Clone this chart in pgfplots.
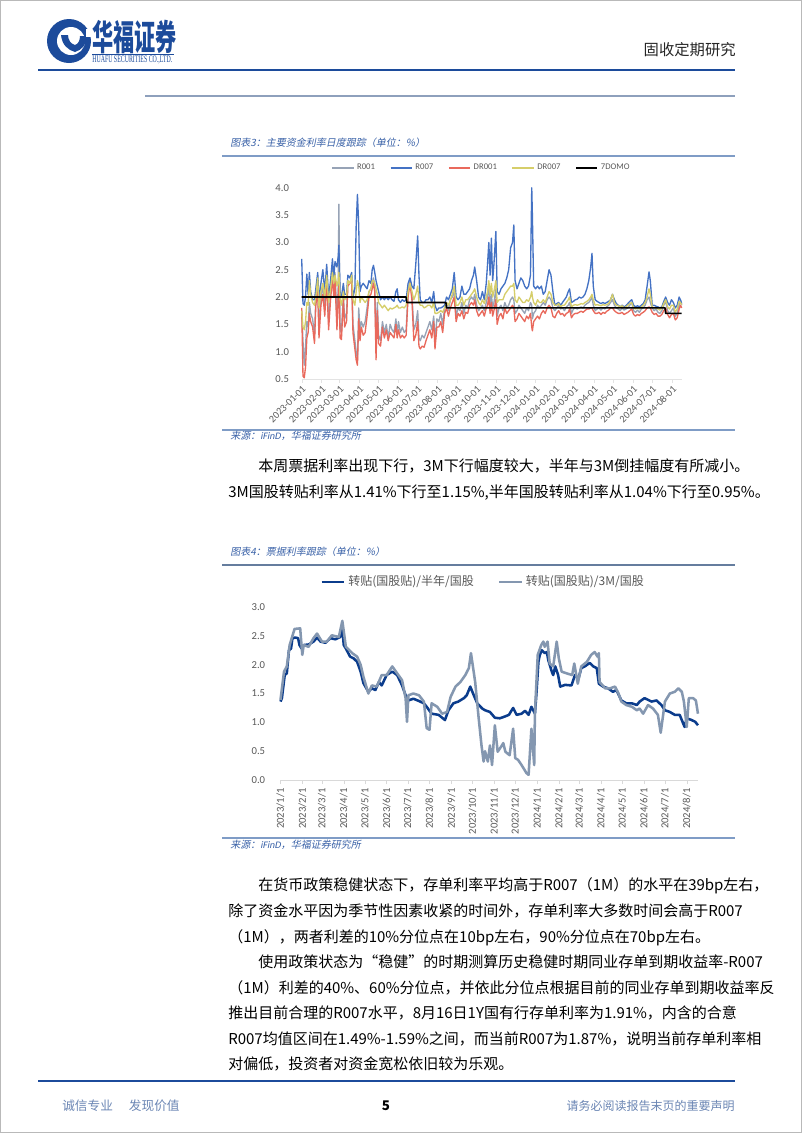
\documentclass[border=0pt]{standalone}
\usepackage{pgfplots}
\pgfplotsset{compat=1.18}
\usepackage{pgfplotstable}
\usepackage{fontspec}
\setmainfont{Noto Sans CJK SC}
\newfontfamily\cjkit[FakeSlant=0.2]{Noto Sans CJK SC}
\newfontfamily\calib{Carlito}
\newfontfamily\calibit[FakeSlant=0.2]{Carlito}
\newfontfamily\hdrserif{Liberation Serif}
\XeTeXlinebreaklocale "zh"
\XeTeXlinebreakskip=0pt plus 3pt

\definecolor{hdrblue}{HTML}{1C4B9B}
\definecolor{linegray}{HTML}{8EA0BC}
\definecolor{ttlblue}{HTML}{3A62A8}
\definecolor{ruleblue}{HTML}{7F9CC6}
\definecolor{footblue}{HTML}{6B86B4}
\definecolor{lbl}{HTML}{595959}
\definecolor{cR001}{HTML}{97A3B6}
\definecolor{cR007}{HTML}{4472C4}
\definecolor{cDR001}{HTML}{E9695C}
\definecolor{cDR007}{HTML}{D6CE6A}
\definecolor{cHalf}{HTML}{0B3C8C}
\definecolor{cThree}{HTML}{8497B0}

\newcommand\bodyfont{\fontsize{11.25}{13}\selectfont}

\pgfplotstableread{
d r001 r007 dr001 dr007
0 1.75 2.70 1.80 1.75
2 1.20 1.88 0.55 1.45
4 0.75 1.85 0.52 1.40
6 1.10 2.00 0.72 1.55
8 1.55 2.42 1.25 1.90
10 1.45 2.05 1.35 1.85
12 1.90 2.45 1.70 2.30
14 1.70 2.10 1.55 2.05
17 1.60 1.95 1.45 1.90
20 1.30 1.95 1.15 1.85
22 1.95 2.15 1.85 2.00
25 2.25 2.45 2.10 2.35
27 1.40 1.95 1.25 1.80
30 2.00 2.25 1.85 2.10
33 2.20 2.50 2.05 2.25
36 1.80 2.10 1.65 2.00
39 2.40 2.60 2.30 2.40
42 1.55 2.00 1.40 1.90
45 2.05 2.30 1.95 2.15
48 2.50 2.70 2.35 2.45
50 2.20 2.35 2.00 2.25
52 2.45 2.65 2.30 2.40
55 1.60 2.55 1.40 2.20
57 2.20 2.75 2.00 2.30
58 3.70 2.95 2.20 2.45
60 1.40 2.05 1.25 1.95
62 1.35 2.00 1.22 1.85
65 2.05 2.25 1.95 2.10
67 1.60 2.05 1.45 1.95
70 1.70 2.05 1.55 2.00
72 2.30 2.40 2.20 2.30
75 2.25 2.35 2.25 2.25
78 2.35 2.45 2.30 2.40
80 1.50 2.00 1.35 1.95
83 1.20 2.15 1.05 1.85
85 1.00 3.30 0.85 2.10
87 0.85 3.88 0.75 2.30
89 1.80 3.30 1.60 2.20
91 1.40 2.10 1.20 1.90
93 1.55 2.20 1.45 2.00
96 1.45 2.25 1.30 1.95
99 1.55 2.20 1.35 1.90
102 1.80 2.15 1.65 1.95
105 2.10 2.30 2.00 2.10
108 2.15 2.25 2.05 2.15
110 2.25 2.50 2.15 2.30
112 2.35 2.58 2.25 2.30
114 2.20 2.45 2.10 2.25
116 1.10 2.30 0.85 2.15
118 1.90 2.20 1.75 2.05
120 1.30 2.10 1.15 1.90
123 1.20 1.95 1.10 1.85
126 1.55 2.00 1.45 1.80
129 1.35 1.95 1.25 1.85
132 1.50 2.00 1.40 1.80
135 1.25 1.95 1.20 1.75
138 1.50 2.00 1.35 1.80
141 1.40 1.95 1.30 1.78
144 1.35 1.92 1.25 1.80
147 1.60 2.10 1.50 1.82
149 1.30 2.15 1.25 1.85
151 1.55 1.95 1.40 1.80
154 1.35 1.90 1.25 1.80
157 1.45 1.95 1.30 1.82
160 1.35 1.92 1.25 1.80
163 1.40 1.95 1.30 1.85
166 2.10 2.25 2.00 2.10
169 2.30 2.35 2.25 2.25
172 2.05 2.20 1.95 2.10
175 1.40 2.15 1.20 1.95
178 1.50 2.60 1.30 2.05
181 1.75 3.12 1.55 2.20
183 1.25 2.40 1.10 1.90
185 1.20 1.95 1.05 1.85
188 1.30 1.90 1.10 1.85
191 1.25 1.90 1.08 1.80
194 1.35 1.95 1.20 1.82
197 1.45 1.95 1.30 1.85
200 1.55 2.00 1.40 1.85
203 1.40 1.90 1.25 1.80
206 1.65 2.10 1.55 1.90
208 1.20 1.85 1.05 1.70
211 1.60 1.75 1.45 1.70
214 1.55 1.80 1.45 1.72
217 1.70 1.80 1.55 1.75
220 1.50 1.82 1.35 1.72
223 1.80 1.85 1.70 1.80
226 1.90 2.00 1.80 1.90
229 1.75 1.95 1.65 1.85
232 1.95 2.05 1.80 1.95
235 2.00 2.15 1.90 2.05
238 2.10 2.45 2.00 2.20
241 1.65 2.00 1.55 1.85
244 1.80 1.95 1.70 1.85
247 1.75 2.00 1.65 1.90
250 1.90 2.20 1.75 2.00
253 1.70 2.05 1.60 1.85
256 1.85 2.05 1.72 1.95
259 1.80 2.10 1.70 1.95
262 1.95 2.15 1.85 2.00
265 2.00 2.30 1.90 2.05
268 1.95 2.40 1.85 2.10
270 2.05 2.55 1.95 2.15
273 1.85 2.30 1.75 2.00
276 1.75 2.00 1.65 1.90
279 1.80 1.95 1.70 1.85
282 1.85 2.10 1.75 1.95
285 1.75 1.95 1.65 1.88
288 1.90 2.25 1.80 2.00
290 2.00 2.60 1.85 2.10
292 2.20 3.00 2.00 2.30
294 1.85 2.40 1.70 2.05
296 2.05 3.08 1.90 2.25
298 1.80 2.30 1.65 2.00
300 1.90 2.60 1.75 2.10
303 2.15 3.20 1.95 2.30
305 1.65 2.10 1.50 1.90
308 1.80 2.05 1.65 1.95
311 1.85 2.15 1.70 1.95
314 1.75 2.20 1.60 1.95
317 1.90 2.25 1.80 2.05
320 1.80 2.35 1.70 2.10
323 1.85 2.50 1.75 2.15
326 1.95 2.90 1.80 2.20
329 2.00 3.00 1.85 2.20
331 1.95 3.32 1.80 2.25
333 1.70 2.30 1.55 1.95
336 1.75 2.15 1.60 1.90
339 1.85 2.25 1.70 2.00
342 1.80 2.35 1.65 1.95
345 1.75 2.30 1.60 1.90
348 1.70 2.20 1.55 1.90
351 1.80 2.15 1.65 1.95
354 1.75 2.20 1.60 1.92
357 1.90 2.40 1.70 2.00
359 1.85 4.00 1.45 2.10
360 1.60 3.50 1.38 2.00
362 1.70 2.20 1.55 1.90
365 1.75 2.15 1.60 1.85
368 1.85 2.20 1.65 1.95
371 1.80 2.15 1.60 1.90
374 1.85 2.20 1.70 1.90
377 1.90 2.05 1.75 1.95
380 1.85 2.10 1.70 1.90
383 1.95 2.30 1.80 2.00
386 2.00 2.50 1.85 2.10
389 1.95 2.40 1.80 2.05
392 1.80 2.10 1.65 1.90
395 1.75 1.85 1.62 1.85
398 1.80 1.88 1.70 1.85
401 1.85 1.90 1.75 1.88
404 1.78 1.85 1.68 1.82
407 1.80 1.90 1.70 1.85
410 1.75 1.95 1.65 1.85
413 1.82 2.00 1.70 1.90
416 1.85 2.10 1.72 1.95
418 1.90 2.15 1.78 2.00
421 1.70 1.90 1.62 1.82
424 1.78 1.92 1.68 1.85
427 1.80 1.95 1.70 1.86
430 1.78 1.96 1.70 1.85
433 1.80 2.00 1.72 1.86
436 1.82 1.98 1.74 1.88
439 1.80 2.00 1.72 1.87
442 1.85 2.05 1.75 1.90
445 1.88 2.15 1.78 1.92
448 1.90 2.30 1.78 1.95
451 1.95 2.55 1.80 2.00
453 2.00 2.80 1.80 2.05
455 1.85 2.20 1.75 1.95
458 1.75 1.95 1.70 1.85
461 1.78 1.92 1.70 1.86
464 1.80 1.90 1.72 1.85
467 1.76 1.88 1.68 1.84
470 1.80 1.90 1.72 1.86
473 1.78 1.88 1.70 1.85
476 1.82 1.90 1.74 1.86
479 1.85 1.92 1.76 1.88
482 1.90 1.95 1.80 1.95
485 1.95 2.05 1.80 2.05
488 1.85 1.95 1.75 1.90
491 1.80 1.88 1.72 1.85
494 1.78 1.85 1.70 1.84
497 1.75 1.82 1.70 1.82
500 1.80 1.85 1.72 1.84
503 1.76 1.82 1.68 1.80
506 1.78 1.84 1.70 1.82
509 1.80 1.88 1.72 1.85
512 1.85 1.92 1.75 1.88
515 1.90 1.95 1.78 1.90
518 1.75 1.85 1.68 1.80
521 1.72 1.82 1.65 1.78
524 1.76 1.84 1.68 1.80
527 1.72 1.82 1.66 1.78
530 1.78 1.85 1.70 1.82
533 1.80 1.88 1.72 1.85
536 1.85 1.95 1.75 1.90
539 1.95 2.20 1.80 2.00
542 2.00 2.46 1.82 2.15
544 1.90 2.30 1.80 2.05
547 1.80 1.85 1.72 1.82
550 1.75 1.85 1.68 1.80
553 1.78 1.83 1.70 1.80
556 1.72 1.82 1.65 1.78
559 1.70 1.80 1.65 1.76
562 1.75 1.82 1.68 1.80
565 1.85 1.92 1.75 1.88
568 1.92 2.00 1.80 1.95
571 1.75 1.90 1.68 1.82
574 1.70 1.85 1.62 1.78
577 1.75 1.95 1.68 1.85
580 1.80 1.90 1.70 1.85
583 1.65 1.80 1.58 1.72
586 1.70 1.85 1.62 1.78
589 1.85 2.00 1.78 1.92
591 1.95 1.95 1.85 1.90
593 1.85 1.88 1.80 1.86
}\tabA

\pgfplotstableread{
d v
0 1.36
2 1.42
6 1.82
9 1.85
12 2.25
15 2.28
17 2.46
21 2.47
25 2.46
27 2.34
30 2.28
33 2.34
40 2.35
47 2.40
52 2.47
57 2.40
64 2.38
71 2.46
78 2.44
85 2.48
88 2.63
90 2.34
93 2.28
99 2.14
104 2.11
109 2.05
114 1.88
118 1.68
125 1.53
130 1.59
135 1.56
140 1.70
144 1.64
151 1.82
159 1.88
166 1.82
173 1.64
178 1.47
182 1.38
189 1.41
197 1.37
204 1.33
208 1.27
215 1.15
225 1.13
234 1.04
239 1.21
246 1.33
253 1.36
261 1.42
265 1.47
270 1.62
275 1.47
280 1.33
287 1.24
291 1.21
298 1.18
305 1.08
312 1.07
319 1.10
325 1.13
331 1.25
336 1.13
343 1.15
348 1.20
353 1.13
357 1.27
362 1.15
364 1.47
367 2.05
369 2.17
372 2.25
376 2.20
379 2.22
381 2.08
386 1.88
388 1.82
391 1.97
395 1.82
398 1.62
405 1.65
414 1.64
419 1.82
424 1.76
428 1.94
433 1.97
440 2.03
445 1.97
450 1.94
453 1.67
459 1.62
466 1.59
473 1.53
478 1.56
485 1.38
492 1.33
500 1.33
507 1.30
511 1.36
518 1.42
528 1.36
535 1.38
542 1.30
547 1.21
554 1.18
561 1.13
568 1.13
575 0.92
578 1.07
585 1.04
590 1.01
594 0.95
}\tabH

\pgfplotstableread{
d v
0 1.39
5 1.88
9 1.97
13 2.34
16 2.46
20 2.62
28 2.63
31 2.17
33 2.34
40 2.31
47 2.46
52 2.54
59 2.40
66 2.40
73 2.51
83 2.48
88 2.76
93 2.31
102 2.20
109 2.14
114 2.00
118 1.79
125 1.50
130 1.64
137 1.62
144 1.82
151 1.82
159 1.97
166 1.85
173 1.73
178 1.42
180 1.01
182 1.47
189 1.50
197 1.47
204 1.36
208 0.90
212 0.87
215 1.33
223 1.27
230 1.15
237 1.18
242 1.44
249 1.62
256 1.70
263 1.82
268 1.94
271 2.20
277 1.70
282 1.07
286 0.60
289 0.32
291 0.50
295 0.32
298 0.60
301 0.26
305 0.95
309 0.49
314 0.58
317 0.64
320 0.49
326 0.43
331 0.89
334 0.38
338 0.35
343 0.26
350 0.12
353 0.09
357 0.89
361 0.26
362 1.15
366 2.17
371 2.34
374 2.40
376 2.31
380 2.40
383 2.02
388 1.97
393 2.40
396 2.11
400 1.88
407 1.85
415 1.82
418 2.02
423 1.67
428 1.97
436 2.05
442 2.17
447 2.22
451 2.14
453 2.20
454 1.70
462 1.59
469 1.59
476 1.62
481 1.50
485 1.36
492 1.30
500 1.27
507 1.21
511 1.24
516 1.15
523 1.30
530 1.24
537 1.13
541 0.82
547 1.36
554 1.50
561 1.53
566 1.59
571 1.53
574 1.36
578 0.92
581 1.42
587 1.42
591 1.38
594 1.15
}\tabM

\begin{document}
\begin{tikzpicture}[x=0.75pt,y=-0.75pt]
\path[use as bounding box] (0,0) rectangle (802,1133);
\fill[white] (0,0) rectangle (802,1133);
\draw[gray!55, line width=0.75pt] (0.5,0.5) rectangle (801.5,1132.5);

% ---------- header ----------
\fill[hdrblue] (69,41) circle (22);
\fill[white] (71,41) circle (14);
\fill[hdrblue] (61,35) .. controls (62,45) and (68,50) .. (75,52) .. controls (82,50) and (87,44) .. (87,36) -- (80,36) .. controls (80,41) and (78,44) .. (75,45) .. controls (71,44) and (68,40) .. (68,35) -- cycle;
\fill[white] (86,29) rectangle (93,37);
\node[anchor=west, inner sep=0pt, text=hdrblue] at (92,37) {\scalebox{0.72}[1.2]{\fontsize{22}{23}\selectfont\bfseries 华福证券}};
\draw[hdrblue, line width=0.4pt] (92,54) -- (174,54);
\node[anchor=west, inner sep=0pt, text=hdrblue] at (92,59.5) {\resizebox{60pt}{5pt}{\hdrserif HUAFU SECURITIES CO.,LTD.}};
\node[anchor=east, inner sep=0pt, text=black!85] at (736,50) {\fontsize{11.5}{12}\selectfont 固收定期研究};
\draw[hdrblue, line width=1.6pt] (38,70) -- (735,70);
\draw[linegray, line width=0.8pt] (145,96) -- (735,96);

% ---------- chart 1 header/footer ----------
\node[anchor=west, inner sep=0pt, text=ttlblue] at (230,143) {\fontsize{7.5}{8}\selectfont\cjkit 图表3：主要资金利率日度跟踪（单位：\%）};
\draw[ruleblue, line width=0.8pt] (222,156) -- (735,156);
\draw[ruleblue, line width=0.8pt] (222,430) -- (735,430);
\node[anchor=west, inner sep=0pt, text=ttlblue] at (230,436) {\fontsize{7.5}{8}\selectfont\cjkit 来源：{\calibit iFinD}，华福证券研究所};

\coordinate (P1) at (301.7,378.9);
\begin{axis}[at={(P1)}, anchor=south west, scale only axis,
  width=285pt, height=143.3pt,
  xmin=0, xmax=593, ymin=0.5, ymax=4.0, clip=false,
  axis x line*=bottom, axis y line*=left,
  axis line style={-},
  x axis line style={draw=gray!22},
  y axis line style={draw=none},
  tick align=outside, major tick length=3pt,
  xtick={0,31,59,90,120,151,181,212,243,273,304,334,365,396,425,456,486,517,547,578},
  xticklabels={2023-01-01,2023-02-01,2023-03-01,2023-04-01,2023-05-01,2023-06-01,2023-07-01,2023-08-01,2023-09-01,2023-10-01,2023-11-01,2023-12-01,2024-01-01,2024-02-01,2024-03-01,2024-04-01,2024-05-01,2024-06-01,2024-07-01,2024-08-01},
  xtick style={draw=gray!22},
  ytick={0.5,1.0,1.5,2.0,2.5,3.0,3.5,4.0},
  ytick style={draw=none},
  /pgf/number format/fixed, /pgf/number format/fixed zerofill,
  /pgf/number format/precision=1, /pgf/number format/assume math mode=true,
  yticklabel style={font=\calib\fontsize{8}{9}\selectfont, text=lbl, xshift=-3pt},
  xticklabel style={font=\calib\fontsize{7.6}{8}\selectfont, text=lbl, rotate=45, anchor=north east, inner sep=1pt},
  legend columns=5,
  legend style={at={(0.474,1.105)}, anchor=center, draw=none, fill=none,
    font=\calib\fontsize{6.5}{7}\selectfont, text=lbl,
    /tikz/every even column/.append style={column sep=9pt}},
  legend image code/.code={\draw[#1, line width=1.3pt] (0pt,0pt) -- (16pt,0pt);},
  every axis plot/.append style={line width=1.0pt, line join=round},
]
\addplot[color=cR001] table[x=d, y=r001] {\tabA};
\addlegendentry{R001}
\addplot[color=cR007] table[x=d, y=r007] {\tabA};
\addlegendentry{R007}
\addplot[color=cDR001] table[x=d, y=dr001] {\tabA};
\addlegendentry{DR001}
\addplot[color=cDR007] table[x=d, y=dr007] {\tabA};
\addlegendentry{DR007}
\addplot[color=black, line width=1.2pt] coordinates {(0,2.0) (163,2.0) (164,1.9) (225,1.9) (226,1.8) (567,1.8) (568,1.7) (593,1.7)};
\addlegendentry{7DOMO}
\end{axis}

% ---------- paragraph A ----------
\node[anchor=base west, inner sep=0pt] at (258,471.5) {\bodyfont\makebox[359.25pt][s]{本周票据利率出现下行，3M下行幅度较大，半年与3M倒挂幅度有所减小。}};
\node[anchor=base west, inner sep=0pt] at (228,497.5) {\bodyfont\makebox[381.75pt][s]{3M国股转贴利率从1.41\%下行至1.15\%,半年国股转贴利率从1.04\%下行至0.95\%。}};

% ---------- chart 2 header/footer ----------
\node[anchor=west, inner sep=0pt, text=ttlblue] at (230,552) {\fontsize{7.5}{8}\selectfont\cjkit 图表4：票据利率跟踪（单位：\%）};
\draw[ruleblue!80!black, line width=1pt] (222,565) -- (735,565);
\draw[ruleblue, line width=0.8pt] (222,838) -- (735,838);
\node[anchor=west, inner sep=0pt, text=ttlblue] at (230,845) {\fontsize{7.5}{8}\selectfont\cjkit 来源：{\calibit iFinD}，华福证券研究所};

\coordinate (P2) at (280.5,780);
\begin{axis}[at={(P2)}, anchor=south west, scale only axis,
  width=313.1pt, height=129.75pt,
  xmin=0, xmax=594, ymin=0, ymax=3.0, clip=false,
  axis x line*=bottom, axis y line*=left,
  axis line style={-},
  x axis line style={draw=gray!30},
  y axis line style={draw=none},
  tick align=outside, major tick length=3pt,
  xtick={0,31,59,90,120,151,181,212,243,273,304,334,365,396,425,456,486,517,547,578},
  xticklabels={2023/1/1,2023/2/1,2023/3/1,2023/4/1,2023/5/1,2023/6/1,2023/7/1,2023/8/1,2023/9/1,2023/10/1,2023/11/1,2023/12/1,2024/1/1,2024/2/1,2024/3/1,2024/4/1,2024/5/1,2024/6/1,2024/7/1,2024/8/1},
  xtick style={draw=gray!30},
  ytick={0,0.5,1.0,1.5,2.0,2.5,3.0},
  ytick style={draw=none},
  /pgf/number format/fixed, /pgf/number format/fixed zerofill,
  /pgf/number format/precision=1, /pgf/number format/assume math mode=true,
  yticklabel style={font=\calib\fontsize{8}{9}\selectfont, text=lbl, xshift=-5pt},
  xticklabel style={font=\calib\fontsize{8}{9}\selectfont, text=lbl, rotate=90, anchor=east, inner sep=1pt, xshift=-2pt},
  legend columns=2,
  legend style={at={(0.486,1.145)}, anchor=center, draw=none, fill=none,
    font=\fontsize{9}{10}\selectfont, text=lbl,
    /tikz/every even column/.append style={column sep=16pt}},
  legend image code/.code={\draw[#1, line width=2pt] (0pt,0pt) -- (17pt,0pt);},
  every axis plot/.append style={line width=1.9pt, line join=round},
]
\addplot[color=cHalf] table[x=d, y=v] {\tabH};
\addlegendentry{转贴(国股贴)/半年/国股}
\addplot[color=cThree] table[x=d, y=v] {\tabM};
\addlegendentry{转贴(国股贴)/3M/国股}
\end{axis}

% ---------- paragraph B ----------
\node[anchor=base west, inner sep=0pt] at (258,890.5) {\bodyfont\makebox[359.25pt][s]{在货币政策稳健状态下，存单利率平均高于R007（1M）的水平在39bp左右，}};
\node[anchor=base west, inner sep=0pt] at (228,916.5) {\bodyfont\makebox[381.75pt][s]{除了资金水平因为季节性因素收紧的时间外，存单利率大多数时间会高于R007}};
\node[anchor=base west, inner sep=0pt] at (228,942.5) {\bodyfont （1M），两者利差的10\%分位点在10bp左右，90\%分位点在70bp左右。};
\node[anchor=base west, inner sep=0pt] at (258,967.5) {\bodyfont\makebox[359.25pt][s]{使用政策状态为“稳健”的时期测算历史稳健时期同业存单到期收益率-R007}};
\node[anchor=base west, inner sep=0pt] at (228,993.5) {\bodyfont\makebox[381.75pt][s]{（1M）利差的40\%、60\%分位点，并依此分位点根据目前的同业存单到期收益率反}};
\node[anchor=base west, inner sep=0pt] at (228,1018.5) {\bodyfont\makebox[381.75pt][s]{推出目前合理的R007水平，8月16日1Y国有行存单利率为1.91\%，内含的合意}};
\node[anchor=base west, inner sep=0pt] at (228,1044.5) {\bodyfont\makebox[381.75pt][s]{R007均值区间在1.49\%-1.59\%之间，而当前R007为1.87\%，说明当前存单利率相}};
\node[anchor=base west, inner sep=0pt] at (228,1069.5) {\bodyfont 对偏低，投资者对资金宽松依旧较为乐观。};

% ---------- footer ----------
\draw[hdrblue, line width=1.6pt] (38,1081) -- (735,1081);
\node[anchor=west, inner sep=0pt, text=footblue] at (62,1106) {\fontsize{9.5}{10}\selectfont 诚信专业\hspace{12pt}发现价值};
\node[inner sep=0pt, text=black] at (386,1106) {\fontsize{10}{11}\selectfont\bfseries 5};
\node[anchor=east, inner sep=0pt, text=footblue] at (735,1106) {\fontsize{9}{10}\selectfont 请务必阅读报告末页的重要声明};
\end{tikzpicture}
\end{document}
